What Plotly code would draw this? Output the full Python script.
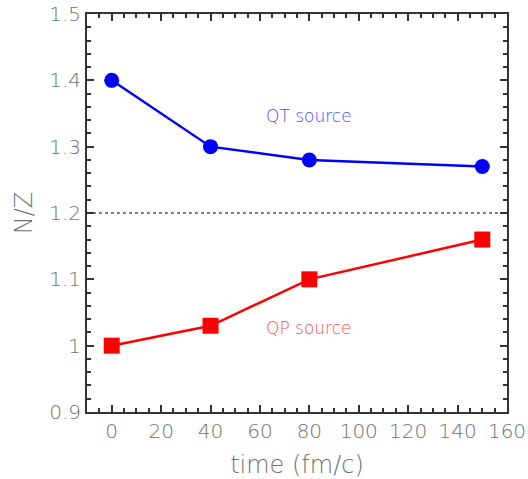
import plotly.graph_objects as go

time_qt = [0, 40, 80, 150]
nz_qt = [1.40, 1.30, 1.28, 1.27]
time_qp = [0, 40, 80, 150]
nz_qp = [1.00, 1.03, 1.10, 1.16]
ref_level = 1.2

FONT = "DejaVu Sans"
GRAY = "#707070"
AX = "#333333"
W = 200

fig = go.Figure()
fig.add_trace(go.Scatter(x=time_qt, y=nz_qt, mode="lines+markers",
                         line=dict(color="#0000ff", width=2.5),
                         marker=dict(symbol="circle", size=15, color="#0000ff"),
                         showlegend=False))
fig.add_trace(go.Scatter(x=time_qp, y=nz_qp, mode="lines+markers",
                         line=dict(color="#ff0000", width=2.5),
                         marker=dict(symbol="square", size=16, color="#ff0000"),
                         showlegend=False))

fig.add_shape(type="line", xref="paper", x0=0, x1=1, yref="y", y0=ref_level, y1=ref_level,
              line=dict(color="black", width=1, dash="3px,3px"), layer="below")

fig.add_annotation(x=80, y=1.346, text="QT source", showarrow=False,
                   font=dict(family=FONT, size=17, color="#4d4dff", weight=W))
fig.add_annotation(x=80, y=1.026, text="QP source", showarrow=False,
                   font=dict(family=FONT, size=17, color="#ff4d4d", weight=W))

axis_common = dict(showline=True, linecolor=AX, linewidth=2, mirror="ticks",
                   ticks="inside", ticklen=7, tickwidth=1.5, tickcolor=AX,
                   showgrid=False, zeroline=False,
                   tickfont=dict(family=FONT, size=20, color=GRAY, weight=W))

fig.update_xaxes(range=[-10, 160], tick0=0, dtick=20,
                 minor=dict(dtick=5, ticks="inside", ticklen=4, tickwidth=1.5, tickcolor=AX, showgrid=False),
                 title=dict(text="time (fm/c)", standoff=15,
                            font=dict(family=FONT, size=24, color=GRAY, weight=W)),
                 **axis_common)
fig.update_yaxes(range=[0.9, 1.5], tick0=0.9, dtick=0.1,
                 minor=dict(dtick=0.02, ticks="inside", ticklen=4, tickwidth=1.5, tickcolor=AX, showgrid=False),
                 title=dict(text="N/Z", standoff=10,
                            font=dict(family=FONT, size=24, color=GRAY, weight=W)),
                 **axis_common)

fig.update_layout(width=528, height=479, margin=dict(l=87, r=21, t=14, b=67, autoexpand=False),
                  plot_bgcolor="white", paper_bgcolor="white")

fig.write_html("out.html")
